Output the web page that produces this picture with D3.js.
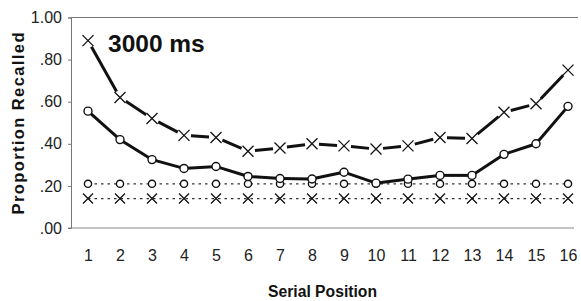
<!DOCTYPE html>
<html><head><meta charset="utf-8">
<script src="https://cdn.jsdelivr.net/npm/d3@7"></script>
<style>body{margin:0;background:#fff}svg{display:block}</style>
</head><body>
<svg id="c" width="581" height="301"></svg>
<script>
const positions = [1,2,3,4,5,6,7,8,9,10,11,12,13,14,15,16];
const yTicks = [0, 0.2, 0.4, 0.6, 0.8, 1.0];
const yTickLabels = [".00", ".20", ".40", ".60", ".80", "1.00"];
const crossSolid = [0.89,0.62,0.52,0.44,0.43,0.365,0.38,0.40,0.39,0.375,0.39,0.43,0.425,0.55,0.59,0.75];
const circleSolid = [0.555,0.42,0.325,0.283,0.292,0.245,0.235,0.233,0.265,0.213,0.232,0.25,0.25,0.35,0.40,0.578];
const circleDotted = [0.21,0.21,0.21,0.21,0.21,0.21,0.21,0.21,0.21,0.21,0.21,0.21,0.21,0.21,0.21,0.21];
const crossDotted = [0.14,0.14,0.14,0.14,0.14,0.14,0.14,0.14,0.14,0.14,0.14,0.14,0.14,0.14,0.14,0.14];
const title = "3000 ms";

const svg = d3.select("#c");
const x = d3.scaleLinear().domain([0.5, 16.5]).range([72, 584]);
const y = d3.scaleLinear().domain([0, 1]).range([228, 17.5]);
const font = "'Liberation Sans', Arial, sans-serif";

// frame lines
svg.append("line").attr("x1",71).attr("x2",578).attr("y1",y(1)).attr("y2",y(1)).attr("stroke","#777").attr("stroke-width",1);
svg.append("line").attr("x1",68).attr("x2",574).attr("y1",y(0)).attr("y2",y(0)).attr("stroke","#888").attr("stroke-width",1);

// y axis
const yAxis = d3.axisLeft(y).tickValues(yTicks).tickFormat((d,i)=>yTickLabels[i]).tickSize(3).tickPadding(6);
const ga = svg.append("g").attr("transform","translate(71,0)").call(yAxis);
ga.select(".domain").attr("stroke","#777");
ga.selectAll(".tick line").attr("stroke","#777");
ga.selectAll("text").attr("font-family",font).attr("font-size",16).attr("fill","#222");

// x axis labels
const xAxis = d3.axisBottom(x).tickValues(positions).tickSize(0).tickPadding(22);
const gx = svg.append("g").attr("transform",`translate(0,${y(0)})`).call(xAxis);
gx.select(".domain").remove();
gx.selectAll("text").attr("font-family",font).attr("font-size",16).attr("fill","#222");

// solid lines with gaps at markers
function gappedSegments(vals, gap, width) {
  const g = svg.append("g");
  for (let i = 0; i < vals.length - 1; i++) {
    const x1 = x(positions[i]), y1 = y(vals[i]), x2 = x(positions[i+1]), y2 = y(vals[i+1]);
    const dx = x2 - x1, dy = y2 - y1, L = Math.hypot(dx, dy);
    const ux = dx / L, uy = dy / L;
    g.append("line")
      .attr("x1", x1 + ux*gap).attr("y1", y1 + uy*gap)
      .attr("x2", x2 - ux*gap).attr("y2", y2 - uy*gap)
      .attr("stroke","#111").attr("stroke-width",width).attr("stroke-linecap","butt");
  }
}
function dottedLine(vals) {
  svg.append("path").datum(vals)
    .attr("d", d3.line().x((d,i)=>x(positions[i])).y(d=>y(d)))
    .attr("fill","none").attr("stroke","#333").attr("stroke-width",1.3)
    .attr("stroke-dasharray","2.5,4");
}
function crosses(vals, s) {
  const g = svg.append("g");
  vals.forEach((v,i) => {
    const cx = x(positions[i]), cy = y(v);
    g.append("path").attr("d",`M${cx-s},${cy-s}L${cx+s},${cy+s}M${cx-s},${cy+s}L${cx+s},${cy-s}`)
      .attr("stroke","#111").attr("stroke-width",1.3).attr("fill","none");
  });
}
function circles(vals, r) {
  svg.append("g").selectAll("circle").data(vals).join("circle")
    .attr("cx",(d,i)=>x(positions[i])).attr("cy",d=>y(d)).attr("r",r)
    .attr("fill","#fff").attr("stroke","#111").attr("stroke-width",1.4);
}

dottedLine(circleDotted);
dottedLine(crossDotted);
circles(circleDotted, 3.6);
crosses(crossDotted, 5);

gappedSegments(crossSolid, 7, 3);
crosses(crossSolid, 5.5);
gappedSegments(circleSolid, 3, 3);
circles(circleSolid, 4);

// title
svg.append("text").attr("x",108).attr("y",52).attr("font-family",font).attr("font-weight","bold")
  .attr("font-size",24.5).attr("fill","#111").text(title);

// axis titles
svg.append("text").attr("transform","translate(24,123.5) rotate(-90)").attr("text-anchor","middle")
  .attr("font-family",font).attr("font-weight","bold").attr("font-size",16.5).attr("fill","#111")
  .attr("textLength",182).attr("lengthAdjust","spacing")
  .text("Proportion Recalled");
svg.append("text").attr("x",322.5).attr("y",297).attr("text-anchor","middle")
  .attr("font-family",font).attr("font-weight","bold").attr("font-size",16).attr("fill","#111")
  .attr("textLength",109).attr("lengthAdjust","spacingAndGlyphs")
  .text("Serial Position");
</script>
</body></html>
